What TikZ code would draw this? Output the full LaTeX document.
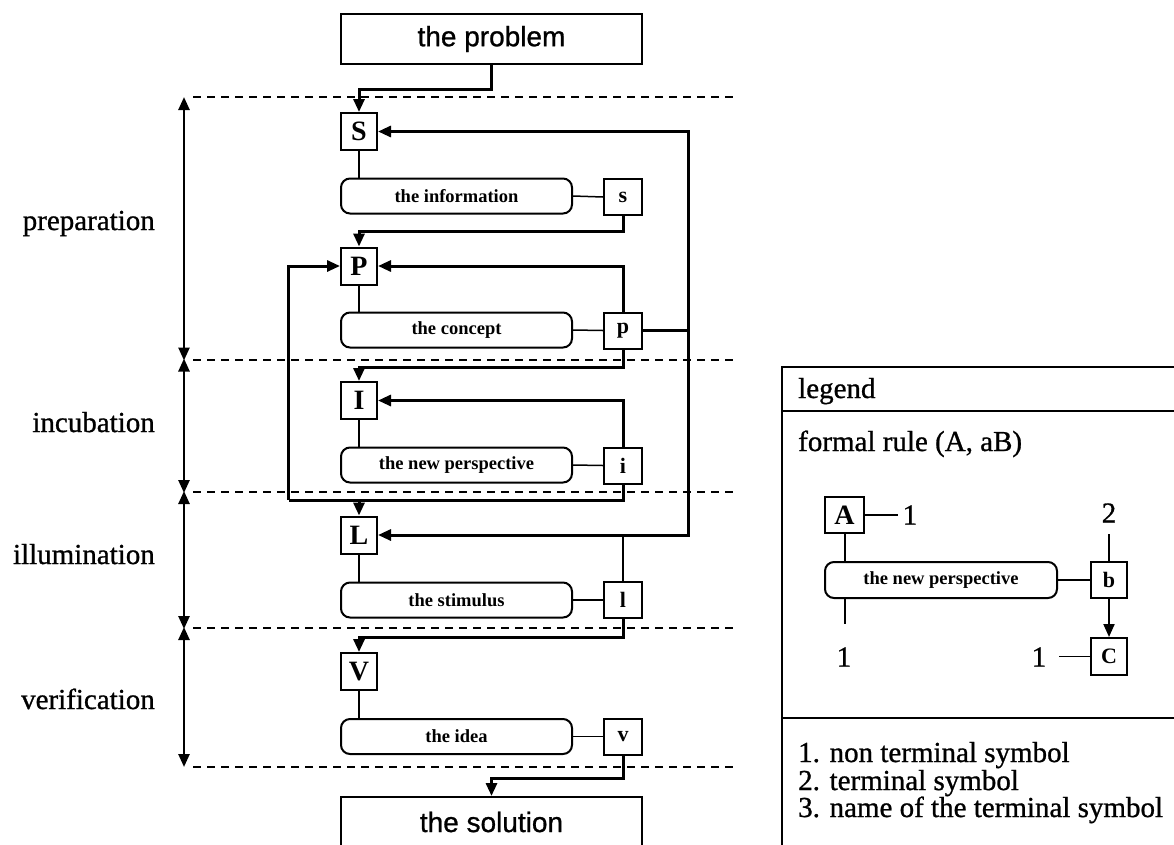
\documentclass[tikz,border=0pt]{standalone}
\usepackage{fontspec}
\setmainfont{Liberation Serif}
\newfontfamily\sansf{Liberation Sans}[FakeBold=0.9]
\newfontfamily\heavyserif{Liberation Serif}[FakeBold=0.9]
\usetikzlibrary{arrows.meta}
\begin{document}
\begin{tikzpicture}[x=1pt,y=-1pt,
 bigbox/.style={draw, line width=2pt, minimum width=301pt, minimum height=50pt, inner sep=0pt, font=\sansf\fontsize{28}{30}\selectfont},
 ntbox/.style={draw, line width=2pt, minimum width=36pt, minimum height=37pt, inner sep=0pt, font=\bfseries\fontsize{28}{30}\selectfont},
 tbox/.style={draw, line width=2pt, minimum width=38pt, minimum height=36pt, inner sep=0pt, font=\bfseries\fontsize{22}{24}\selectfont},
 rulebox/.style={draw, line width=2pt, rounded corners=9pt, minimum width=231pt, minimum height=35pt, inner sep=0pt, font=\bfseries\fontsize{18.5}{20}\selectfont},
 phase/.style={anchor=base east, inner sep=0pt, font=\heavyserif\fontsize{29}{30}\selectfont},
 legtxt/.style={anchor=base west, inner sep=0pt, font=\heavyserif\fontsize{29}{30}\selectfont},
 num/.style={inner sep=0pt, font=\heavyserif\fontsize{29}{30}\selectfont},
 link/.style={line width=2pt},
 thinlink/.style={line width=1.5pt},
 flow/.style={line width=3pt, -{Triangle[length=13pt,width=11pt]}},
 flowline/.style={line width=3pt},
 sepline/.style={line width=2pt, dash pattern=on 8pt off 6pt},
 span/.style={line width=2.5pt, {Triangle[length=13pt,width=11pt]}-{Triangle[length=13pt,width=11pt]}},
 frame/.style={line width=2.5pt}
]
\useasboundingbox (0,0) rectangle (1174,844);
\clip (0,0) rectangle (1174,844);

% phase separators
\foreach \yy/\nm in {97/d1,359.5/d2,492/d3,628/d4,767/d5}{
  \coordinate (\nm) at (184,\yy);
  \draw[sepline] (193,\yy) -- (735,\yy);
}
\draw[span] (d1) -- ([yshift=-1pt]d2);
\draw[span] ([yshift=1pt]d2) -- ([yshift=-1pt]d3);
\draw[span] ([yshift=1pt]d3) -- ([yshift=-1pt]d4);
\draw[span] ([yshift=1pt]d4) -- (d5);

\node[phase] (ph1) at (155,230) {preparation};
\node[phase] (ph2) at (155,432) {incubation};
\node[phase] (ph3) at (155,564) {illumination};
\node[phase] (ph4) at (155,709) {verification};

% main nodes
\node[bigbox] (problem) at (491.5,39) {the problem};
\node[bigbox] (solution) at (491.5,822) {the solution};

\node[ntbox] (S) at (359,131.5) {S};
\node[rulebox] (info) at (456.5,196) {the information};
\node[tbox] (s) at (623,197) {s};

\node[ntbox] (P) at (359,266) {P};
\node[rulebox] (concept) at (456.5,330) {the concept};
\node[tbox] (p) at (623,330.5) {p};

\node[ntbox] (I) at (359,400.5) {I};
\node[rulebox] (persp) at (456.5,465) {the new perspective};
\node[tbox] (i) at (623,465.5) {i};

\node[ntbox] (L) at (359,535) {L};
\node[rulebox] (stim) at (456.5,600) {the stimulus};
\node[tbox] (l) at (623,600) {l};

\node[ntbox] (V) at (359,671.5) {V};
\node[rulebox] (idea) at (456.5,736.5) {the idea};
\node[tbox] (v) at (623,736.5) {v};

\coordinate (rj) at (688,330.5);
\coordinate (lj) at (288.5,500);

% connectors
\draw[flow] (problem.south) -- ++(0,24) -| (S.north);
\draw[link] (S.south) -- (S.south |- info.north);
\draw[thinlink] (info.east) -- (s.west);
\draw[flow] (s.south) -- ++(0,15) -| (P.north);

\draw[flowline] (p.east) -- (rj);
\draw[flow] (rj) |- (S.east);
\draw[flow] (rj) |- (L.east);

\draw[link] (P.south) -- (P.south |- concept.north);
\draw[thinlink] (concept.east) -- (p.west);
\draw[flow] (p.north) |- (P.east);
\draw[flow] (p.south) -- ++(0,17.5) -| (I.north);

\draw[link] (I.south) -- (I.south |- persp.north);
\draw[thinlink] (persp.east) -- (i.west);
\draw[flow] (i.north) |- (I.east);
\draw[flowline] (i.south) |- (lj);
\draw[flow] (lj) |- (P.west);
\draw[flow] (L.north |- lj) -- (L.north);

\draw[link] (L.south) -- (L.south |- stim.north);
\draw[thinlink] (stim.east) -- (l.west);
\draw[link] (l.north) -- (l.north |- L.east);
\draw[flow] (l.south) -- ++(0,18) -| (V.north);

\draw[link] (V.south) -- (V.south |- idea.north);
\draw[thinlink] (idea.east) -- (v.west);
\draw[flow] (v.south) -- ++(0,23) -| (solution.north);

% legend
\draw[frame] (782,850) -- (782,367) -- (1180,367);
\draw[frame] (782,411) -- (1180,411);
\draw[frame] (782,718) -- (1180,718);
\node[legtxt] (lgh) at (798,398) {legend};
\node[legtxt] (lgr) at (798,451) {formal rule (A, aB)};

\node[ntbox, minimum width=39pt, minimum height=36pt] (A) at (844.5,515) {A};
\node[rulebox, minimum width=232pt, minimum height=36pt] (r0) at (941,580) {the new perspective};
\node[tbox, minimum width=36pt] (b) at (1109,580) {b};
\node[tbox, minimum width=36pt, minimum height=37pt] (C) at (1109,656.5) {C};
\node[num] (la) at (910,515) {1};
\node[num] (lr) at (844,657) {1};
\node[num] (l2) at (1109,513) {2};
\node[num] (lc) at (1039,657) {1};

\draw[thinlink] (A.east) -- ++(33,0);
\draw[link] (A.south) -- (A.south |- r0.north);
\draw[link] (r0.south -| A.south) -- ++(0,25);
\draw[thinlink] (r0.east) -- (b.west);
\draw[link] (b.north) -- ++(0,-27);
\draw[link, -{Triangle[length=13pt,width=11pt]}] (b.south) -- (C.north);
\draw[thinlink] (C.west) -- ++(-31,0);

\node[legtxt] (it1) at (798,762) {1. non terminal symbol};
\node[legtxt] (it2) at (798,790) {2. terminal symbol};
\node[legtxt] (it3) at (798,817) {3. name of the terminal symbol};
\end{tikzpicture}
\end{document}
